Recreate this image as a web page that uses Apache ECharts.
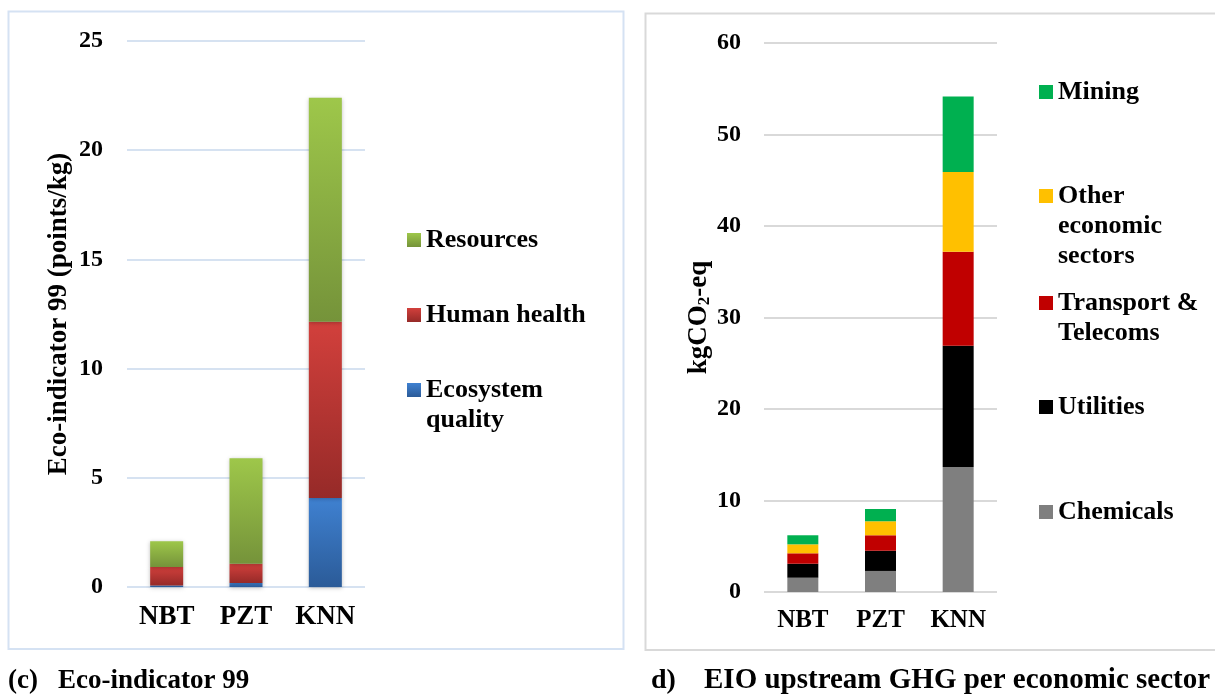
<!DOCTYPE html>
<html>
<head>
<meta charset="utf-8">
<script src="https://cdn.jsdelivr.net/npm/echarts@6/dist/echarts.min.js"></script>
<style>
html,body{margin:0;padding:0;background:#fff;}
#chart{width:1215px;height:695px;}
</style>
</head>
<body>
<div id="chart"></div>
<script>
// ---- data ----
const categories = ['NBT', 'PZT', 'KNN'];

// (c) Eco-indicator 99 (points/kg)
const ecosystemQuality = [0.07, 0.18, 4.08];
const humanHealth = [0.85, 0.88, 8.06];
const resources = [1.18, 4.84, 10.26];
const ecoTicksMax = 25;
const ecoTickStep = 5;

// (d) EIO upstream GHG per economic sector (kgCO2-eq)
const chemicals = [1.56, 2.30, 13.66];
const utilities = [1.53, 2.21, 13.26];
const transport = [1.14, 1.69, 10.26];
const otherSectors = [0.98, 1.53, 8.72];
const mining = [0.99, 1.34, 8.24];
const ghgTicksMax = 60;
const ghgTickStep = 10;

// ---- styling ----
const FONT = '"Liberation Serif", "Times New Roman", serif';
const grad = (top, bottom) => new echarts.graphic.LinearGradient(0, 0, 0, 1, [
  { offset: 0, color: top }, { offset: 1, color: bottom }
]);
const leftShadow = { shadowBlur: 4, shadowColor: 'rgba(0,0,0,0.25)', shadowOffsetY: 1 };

const chart = echarts.init(document.getElementById('chart'), null, { renderer: 'canvas' });

// multi-line legend labels: blank lines above keep the first line level with the icon
function legendItem(name, left, top, labelLines) {
  const n = labelLines.length;
  const pad = new Array(n - 1).fill(' ');
  const label = pad.concat(labelLines).join('\n');
  return {
    data: [name],
    left: left,
    top: top,
    orient: 'vertical',
    padding: 0,
    icon: 'rect',
    itemWidth: 14,
    itemHeight: 14,
    formatter: () => label,
    textStyle: {
      fontFamily: FONT, fontSize: 26, fontWeight: 'bold', color: '#000',
      lineHeight: 30
    }
  };
}

const axisLabelY = { fontFamily: FONT, fontSize: 24, fontWeight: 'bold', color: '#000' };
const axisLabelX = { fontFamily: FONT, fontSize: 27, fontWeight: 'bold', color: '#000' };

const option = {
  backgroundColor: '#fff',
  animation: false,
  grid: [
    { left: 127, top: 41, width: 238, height: 546, containLabel: false },
    { left: 764, top: 43, width: 233, height: 549, containLabel: false }
  ],
  xAxis: [
    { type: 'category', gridIndex: 0, data: categories,
      axisLine: { show: false }, axisTick: { show: false },
      axisLabel: Object.assign({ margin: 17 }, axisLabelX) },
    { type: 'category', gridIndex: 1, data: categories,
      axisLine: { show: false }, axisTick: { show: false },
      axisLabel: Object.assign({ margin: 16 }, axisLabelX, { fontSize: 25 }) }
  ],
  yAxis: [
    { type: 'value', gridIndex: 0, min: 0, max: ecoTicksMax, interval: ecoTickStep,
      axisLine: { show: false }, axisTick: { show: false },
      axisLabel: Object.assign({ margin: 24 }, axisLabelY),
      splitLine: { lineStyle: { color: '#D6E2F1', width: 2 } },
      name: 'Eco-indicator 99 (points/kg)', nameLocation: 'middle', nameRotate: 90, nameGap: 54,
      nameTextStyle: { fontFamily: FONT, fontSize: 27, fontWeight: 'bold', color: '#000' } },
    { type: 'value', gridIndex: 1, min: 0, max: ghgTicksMax, interval: ghgTickStep,
      axisLine: { show: false }, axisTick: { show: false },
      axisLabel: Object.assign({ margin: 23 }, axisLabelY),
      splitLine: { lineStyle: { color: '#D9D9D9', width: 2 } },
      name: 'kgCO{sub|2}-eq', nameLocation: 'middle', nameRotate: 90, nameGap: 51,
      nameTextStyle: { fontFamily: FONT, fontSize: 27, fontWeight: 'bold', color: '#000',
        rich: { sub: { fontFamily: FONT, fontSize: 17, fontWeight: 'bold', color: '#000',
                       verticalAlign: 'bottom', lineHeight: 10 } } } }
  ],
  legend: [
    legendItem('Resources', 407, 225, ['Resources']),
    legendItem('Human health', 407, 300, ['Human health']),
    legendItem('Ecosystem quality', 407, 345, ['Ecosystem', 'quality']),
    legendItem('Mining', 1039, 77, ['Mining']),
    legendItem('Other economic sectors', 1039, 121, ['Other', 'economic', 'sectors']),
    legendItem('Transport & Telecoms', 1039, 258, ['Transport &', 'Telecoms']),
    legendItem('Utilities', 1039, 392, ['Utilities']),
    legendItem('Chemicals', 1039, 497, ['Chemicals'])
  ],
  series: [
    { name: 'Ecosystem quality', type: 'bar', stack: 'eco', xAxisIndex: 0, yAxisIndex: 0,
      barWidth: 33, data: ecosystemQuality,
      itemStyle: Object.assign({ color: grad('#3F81D1', '#2B5B98') }, leftShadow) },
    { name: 'Human health', type: 'bar', stack: 'eco', xAxisIndex: 0, yAxisIndex: 0,
      barWidth: 33, data: humanHealth,
      itemStyle: Object.assign({ color: grad('#D2403C', '#962A28') }, leftShadow) },
    { name: 'Resources', type: 'bar', stack: 'eco', xAxisIndex: 0, yAxisIndex: 0,
      barWidth: 33, data: resources,
      itemStyle: Object.assign({ color: grad('#9EC74A', '#75933A') }, leftShadow) },

    { name: 'Chemicals', type: 'bar', stack: 'ghg', xAxisIndex: 1, yAxisIndex: 1,
      barWidth: 31, data: chemicals, itemStyle: { color: '#7F7F7F' } },
    { name: 'Utilities', type: 'bar', stack: 'ghg', xAxisIndex: 1, yAxisIndex: 1,
      barWidth: 31, data: utilities, itemStyle: { color: '#000000' } },
    { name: 'Transport & Telecoms', type: 'bar', stack: 'ghg', xAxisIndex: 1, yAxisIndex: 1,
      barWidth: 31, data: transport, itemStyle: { color: '#C00000' } },
    { name: 'Other economic sectors', type: 'bar', stack: 'ghg', xAxisIndex: 1, yAxisIndex: 1,
      barWidth: 31, data: otherSectors, itemStyle: { color: '#FFC000' } },
    { name: 'Mining', type: 'bar', stack: 'ghg', xAxisIndex: 1, yAxisIndex: 1,
      barWidth: 31, data: mining, itemStyle: { color: '#00B050' } }
  ],
  graphic: [
    { type: 'rect', silent: true, z: -1,
      shape: { x: 8.5, y: 11.5, width: 615, height: 637.5 },
      style: { fill: null, stroke: '#D5E2F3', lineWidth: 2 } },
    { type: 'rect', silent: true, z: -1,
      shape: { x: 645.5, y: 13.5, width: 600, height: 636.5 },
      style: { fill: null, stroke: '#D9D9D9', lineWidth: 2 } },
    { type: 'text', x: 8, y: 681,
      style: { text: '(c)', fontFamily: FONT, fontSize: 27, fontWeight: 'bold', fill: '#000', verticalAlign: 'middle' } },
    { type: 'text', x: 58, y: 681,
      style: { text: 'Eco-indicator 99', fontFamily: FONT, fontSize: 27, fontWeight: 'bold', fill: '#000', verticalAlign: 'middle' } },
    { type: 'text', x: 651, y: 681,
      style: { text: 'd)', fontFamily: FONT, fontSize: 28, fontWeight: 'bold', fill: '#000', verticalAlign: 'middle' } },
    { type: 'text', x: 704, y: 681,
      style: { text: 'EIO upstream GHG per economic sector', fontFamily: FONT, fontSize: 29, fontWeight: 'bold', fill: '#000', verticalAlign: 'middle' } }
  ]
};
chart.setOption(option);
</script>
</body>
</html>
